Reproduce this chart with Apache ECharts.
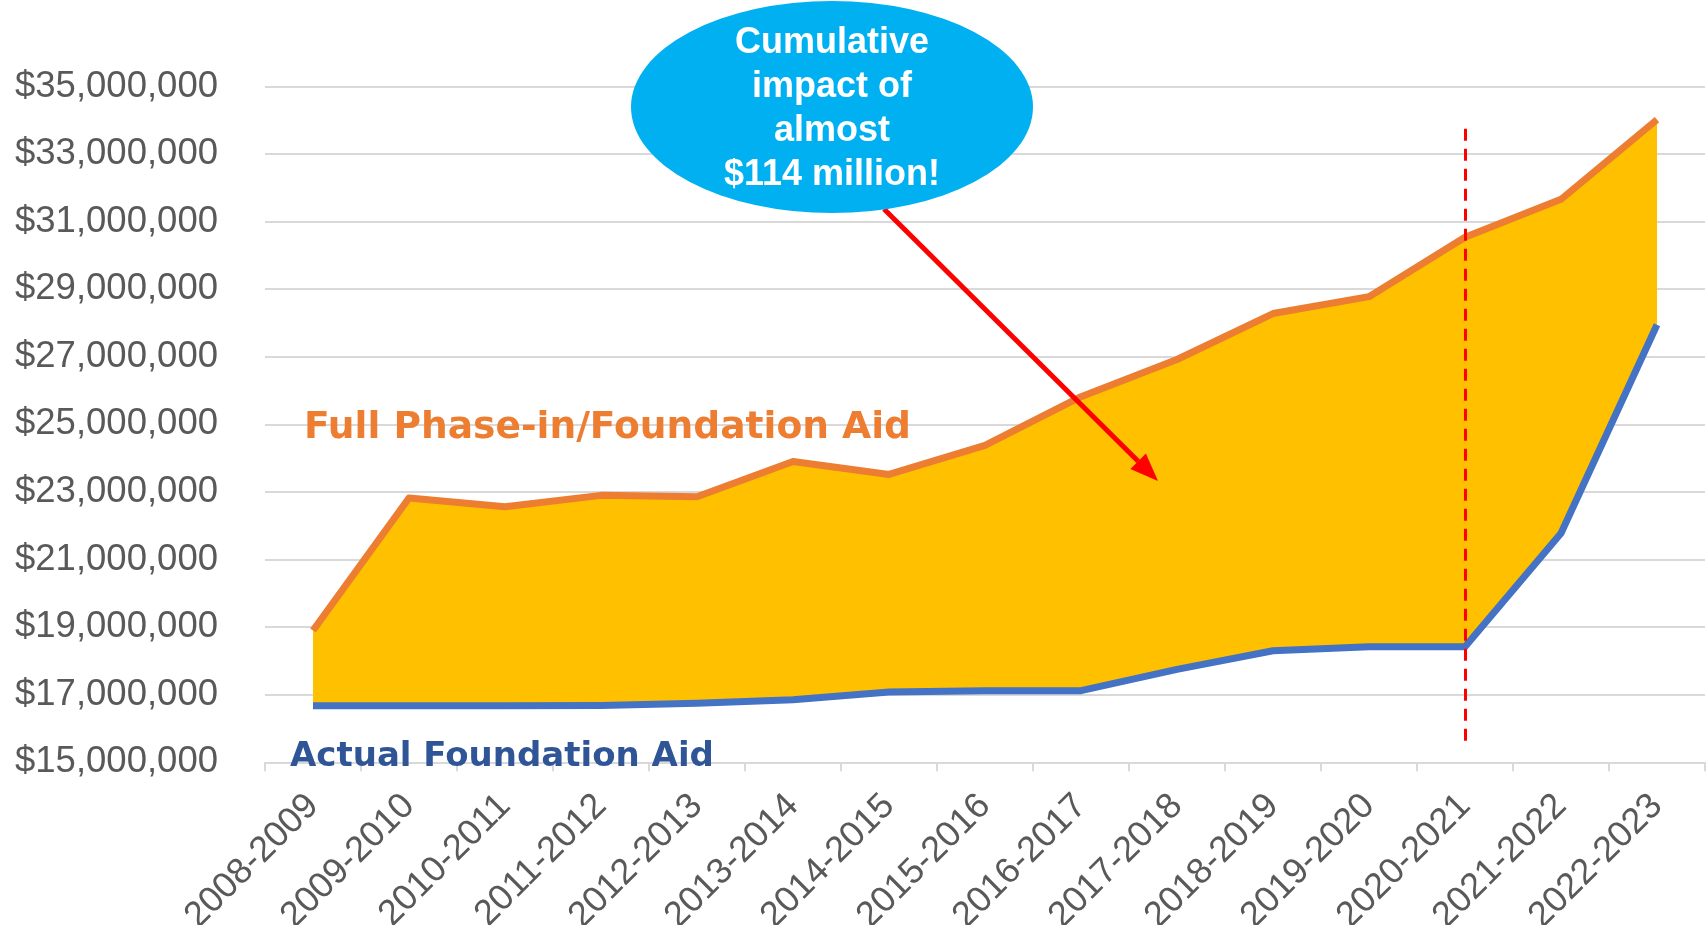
<!DOCTYPE html>
<html><head><meta charset="utf-8">
<script src="https://cdn.jsdelivr.net/npm/echarts@6/dist/echarts.min.js"></script>
<style>html,body{margin:0;padding:0;background:#fff}#c{width:1707px;height:925px}</style>
</head><body><div id="c"></div>
<script>
const categories = ['2008-2009','2009-2010','2010-2011','2011-2012','2012-2013','2013-2014','2014-2015','2015-2016','2016-2017','2017-2018','2018-2019','2019-2020','2020-2021','2021-2022','2022-2023'];
const fullPhaseIn = [18900000, 22820000, 22560000, 22900000, 22860000, 23900000, 23520000, 24380000, 25820000, 26920000, 28280000, 28780000, 30540000, 31660000, 34020000];
const actualAid = [16670000, 16670000, 16670000, 16680000, 16750000, 16850000, 17080000, 17120000, 17120000, 17750000, 18300000, 18420000, 18420000, 21780000, 27950000];
const yMin = 15000000, yMax = 35000000, yStep = 2000000;
const markerCategory = '2020-2021';
const markerFrom = 33750000, markerTo = 15600000;
const labelFull = 'Full Phase-in/Foundation Aid';
const labelActual = 'Actual Foundation Aid';
const calloutLines = ['Cumulative', 'impact of', 'almost', '$114 million!'];

const gap = fullPhaseIn.map((v, i) => v - actualAid[i]);
const chart = echarts.init(document.getElementById('c'), null, {renderer: 'canvas'});

const fmt = v => '$' + v.toLocaleString('en-US');

// arrow geometry
const A0 = [884, 209], A1 = [1158, 481];
const dx = A1[0]-A0[0], dy = A1[1]-A0[1], L = Math.hypot(dx, dy);
const ux = dx/L, uy = dy/L, hl = 28, hw = 11;
const bx = A1[0]-hl*ux, by = A1[1]-hl*uy;

chart.setOption({
  animation: false,
  backgroundColor: '#ffffff',
  grid: {left: 265, right: 2, top: 86.5, bottom: 162.7, containLabel: false, outerBoundsMode: 'none'},
  xAxis: {
    type: 'category', data: categories, boundaryGap: true,
    axisLine: {lineStyle: {color: '#D9D9D9', width: 2}},
    axisTick: {show: true, length: 9, lineStyle: {color: '#D9D9D9', width: 2}},
    axisLabel: {rotate: 45, margin: 38, color: '#595959', fontFamily: 'Liberation Sans', fontSize: 36, interval: 0}
  },
  yAxis: {
    type: 'value', min: yMin, max: yMax, interval: yStep,
    axisLine: {show: false}, axisTick: {show: false},
    splitLine: {lineStyle: {color: '#D9D9D9', width: 2}},
    axisLabel: {formatter: fmt, color: '#595959', fontFamily: 'Liberation Sans', fontSize: 36.5, margin: 47}
  },
  series: [
    {type: 'line', stack: 'band', data: actualAid, symbol: 'none', lineStyle: {width: 0, opacity: 0}, silent: true, z: 1},
    {type: 'line', stack: 'band', data: gap, symbol: 'none', lineStyle: {width: 0, opacity: 0}, areaStyle: {color: '#FFC000', opacity: 1}, silent: true, z: 1},
    {type: 'line', name: labelFull, data: fullPhaseIn, symbol: 'none', lineStyle: {color: '#ED7D31', width: 7, join: 'round'}, z: 3},
    {type: 'line', name: labelActual, data: actualAid, symbol: 'none', lineStyle: {color: '#4472C4', width: 7, join: 'round'}, z: 4,
      markLine: {silent: true, symbol: 'none', label: {show: false},
        lineStyle: {color: '#FF0000', width: 3, type: [12, 8]},
        data: [[{coord: [markerCategory, markerFrom]}, {coord: [markerCategory, markerTo]}]]}
    }
  ],
  graphic: [
    {type: 'line', z: 100, shape: {x1: A0[0], y1: A0[1], x2: bx, y2: by}, style: {stroke: '#FF0000', lineWidth: 5}},
    {type: 'polygon', z: 100, shape: {points: [[A1[0], A1[1]], [bx - hw*uy, by + hw*ux], [bx + hw*uy, by - hw*ux]]}, style: {fill: '#FF0000'}},
    {type: 'circle', z: 101, x: 832, y: 107, scaleX: 201/106, shape: {cx: 0, cy: 0, r: 106}, style: {fill: '#00B0F0'}},
    {type: 'text', z: 102, x: 832, y: 109, style: {text: calloutLines.join('\n'), fill: '#ffffff', font: 'bold 36px "Liberation Sans"', textAlign: 'center', textVerticalAlign: 'middle', align: 'center', verticalAlign: 'middle', lineHeight: 44}},
    {type: 'text', z: 102, x: 304, y: 428, style: {text: labelFull, fill: '#ED7D31', font: 'bold 37.6px "DejaVu Sans"', textAlign: 'left', textVerticalAlign: 'middle', align: 'left', verticalAlign: 'middle'}},
    {type: 'text', z: 102, x: 290, y: 757, style: {text: labelActual, fill: '#2F5597', font: 'bold 34px "DejaVu Sans"', textAlign: 'left', textVerticalAlign: 'middle', align: 'left', verticalAlign: 'middle'}}
  ]
});
</script>
</body></html>
